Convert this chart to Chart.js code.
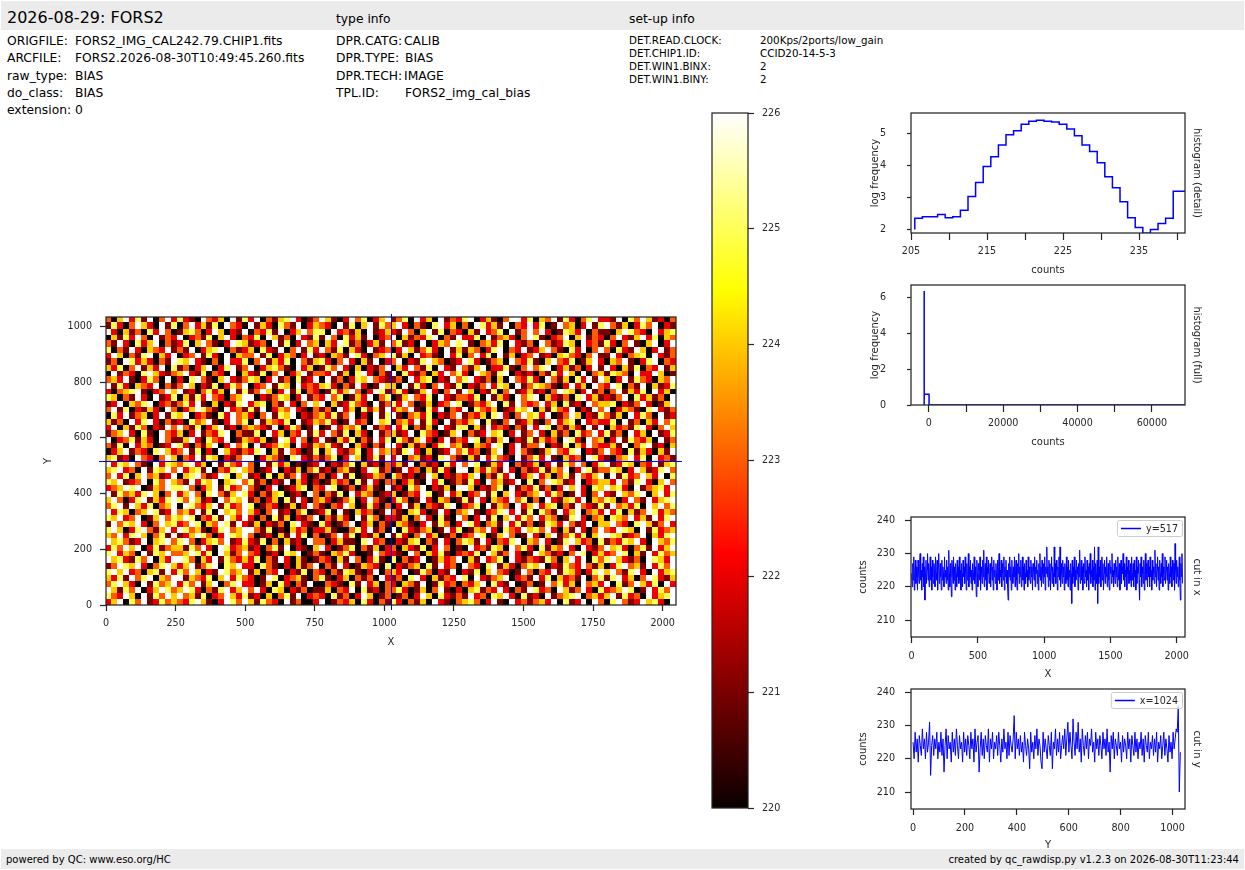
<!DOCTYPE html>
<html>
<head>
<meta charset="utf-8">
<script src="https://cdn.jsdelivr.net/npm/chart.js@4.4.0/dist/chart.umd.min.js"></script>
<style>
  body { margin: 0; width: 1245px; height: 870px; position: relative; background: #fff; font-family: 'DejaVu Sans', sans-serif; color: #000; overflow: hidden; }
  .band { position: absolute; left: 1px; width: 1243px; background: #ebebeb; }
  .t { position: absolute; white-space: pre; line-height: 20px; }
  canvas { position: absolute; }
</style>
</head>
<body>
<div class="band" style="top:1px;height:29px"></div>
<div class="band" style="top:849px;height:20px"></div>

<div class="t" style="left:7px;top:8px;font-size:16px">2026-08-29: FORS2</div>
<div class="t" style="left:336px;top:9px;font-size:12.3px">type info</div>
<div class="t" style="left:629px;top:9px;font-size:12.3px">set-up info</div>

<div class="t" style="left:7px;top:31px;font-size:12.3px">ORIGFILE:</div>
<div class="t" style="left:75px;top:31px;font-size:12.3px">FORS2_IMG_CAL242.79.CHIP1.fits</div>
<div class="t" style="left:7px;top:48px;font-size:12.3px">ARCFILE:</div>
<div class="t" style="left:75px;top:48px;font-size:12.3px">FORS2.2026-08-30T10:49:45.260.fits</div>
<div class="t" style="left:7px;top:66px;font-size:12.3px">raw_type:</div>
<div class="t" style="left:75px;top:66px;font-size:12.3px">BIAS</div>
<div class="t" style="left:7px;top:83px;font-size:12.3px">do_class:</div>
<div class="t" style="left:75px;top:83px;font-size:12.3px">BIAS</div>
<div class="t" style="left:7px;top:100px;font-size:12.3px">extension:</div>
<div class="t" style="left:75px;top:100px;font-size:12.3px">0</div>

<div class="t" style="left:336px;top:31px;font-size:12.3px">DPR.CATG:</div>
<div class="t" style="left:404px;top:31px;font-size:12.3px">CALIB</div>
<div class="t" style="left:336px;top:48px;font-size:12.3px">DPR.TYPE:</div>
<div class="t" style="left:405px;top:48px;font-size:12.3px">BIAS</div>
<div class="t" style="left:336px;top:66px;font-size:12.3px">DPR.TECH:</div>
<div class="t" style="left:404px;top:66px;font-size:12.3px">IMAGE</div>
<div class="t" style="left:336px;top:83px;font-size:12.3px">TPL.ID:</div>
<div class="t" style="left:405px;top:83px;font-size:12.3px">FORS2_img_cal_bias</div>

<div class="t" style="left:629px;top:30px;font-size:10.3px">DET.READ.CLOCK:</div>
<div class="t" style="left:760px;top:30px;font-size:10.3px">200Kps/2ports/low_gain</div>
<div class="t" style="left:629px;top:43px;font-size:10.3px">DET.CHIP1.ID:</div>
<div class="t" style="left:760px;top:43px;font-size:10.3px">CCID20-14-5-3</div>
<div class="t" style="left:629px;top:56px;font-size:10.3px">DET.WIN1.BINX:</div>
<div class="t" style="left:760px;top:56px;font-size:10.3px">2</div>
<div class="t" style="left:629px;top:69px;font-size:10.3px">DET.WIN1.BINY:</div>
<div class="t" style="left:760px;top:69px;font-size:10.3px">2</div>

<div class="t" style="left:6px;top:850px;font-size:10px">powered by QC: www.eso.org/HC</div>
<div class="t" style="right:6px;top:850px;font-size:10px">created by qc_rawdisp.py v1.2.3 on 2026-08-30T11:23:44</div>

<canvas id="imgChart"></canvas>
<canvas id="cbar"></canvas>
<canvas id="histDetail"></canvas>
<canvas id="histFull"></canvas>
<canvas id="cutX"></canvas>
<canvas id="cutY"></canvas>

<script>
// image size (pixels) and where the two cuts are taken
var imgWidth = 2048
var imgHeight = 1034
var cutRow = 517
var cutCol = 1024

// colour scale of the image
var colorMin = 220
var colorMax = 226
var colorTicks = [220, 221, 222, 223, 224, 225, 226]

// image read as a coarse grid, top row first; digit d = 220 + d counts (6 = 226 and above)
var imageRows = [
  '304625160362 521063240615 260314562013 641026350246 135062406132 560241036625 043615203562 216053641203',
  '152036420615 036241506320 614205316024 320615046153 462031056240 306524160326 250163402615 631402536021',
  '620413052630 145302640216 032516024635 506231406124 216304615032 041623506136 362015426031 104653206245',
  '041526306132 602315046203 250641306215 163052416023 604132560316 225061342036 510236046132 036214625043',
  '316205246031 250463102654 123061502634 042651302416 351206024365 610342506213 063125406231 520361046026',
  '503162043261 316024560312 405216036152 631504206123 026413520614 143025603261 246310526036 305216402613',
  '264031560426 023615206043 361502430261 204316520346 514062310625 036250614023 612045320361 162034506213',
  '130652420316 546210306225 036142506314 520362041602 360215643012 652013406325 104632501462 043610256032',
  '425036142605 130246025613 602453106240 153620402136 042631506216 314602251036 356024130261 620415032614',
  '061320564213 462150320604 215036024613 326140562031 605213042635 206431560212 031526406034 154306226401',
  '342610253060 205631046213 540261305126 061302546321 130624502163 562130406325 206314052616 402615320436',
  '615204326031 364021502536 023615406232 452031620164 406152036215 021362540613 543102624063 265031604125',
  '203456102364 612035240615 136402615032 015246302651 352014620361 640215036124 120365402613 036142506240',
  '540316206125 041526320346 602135402613 263501426035 014632506213 325061420635 604213056241 213605241306',
  '126043560231 352610402156 245031620364 604125320613 526301402365 013246051632 362405120634 450213620146',
  '361502142063 024653106231 516024362103 130624052416 243610526032 605324012546 041532602163 602431056213',
  '052613402615 460231052634 203615460213 425136020615 610342502136 132405620364 526013640215 314062530612',
  '413062562031 205346102635 061432506124 352016230645 034261520613 246051036124 103624506232 250613042635',
  '260415302163 631502461203 432160253016 016243506132 625031406215 504162320316 265031420616 042315620364',
  '134620510632 402613256031 150624032615 263150420613 412605320146 031264502613 620413052362 513062406125',
  '602351420631 146205326014 324016526302 610425031625 053146202613 265031460215 142306520634 026153240613',
  '315062430126 520314602635 061235406214 352160420316 620413025634 104326502613 360215042632 241603561204',
  '024613205642 361502064213 256041632015 046213502634 315620401263 523014602631 014632560213 632051420416',
  '451206320364 032615402136 602431056213 135026402516 260341205631 041625320613 526104230652 103462506231',
  '625463106254 356240615326 306152401012 602135041203 241603120526 365014260312 402615363025 612540326145',
  '456230615463 624516032564 301260214035 120341026513 016230415206 604253162031 251436026513 354026412563',
  '362504634126 045631265046 120504136201 302615012430 531201640213 246031526024 624035163246 061523642605',
  '546123605364 316254604563 513021604202 014230516203 302410625013 152063412605 036541260234 426315620463',
  '234656014365 563024615236 310260124503 265013024106 120536021406 640213506132 513026462054 645206134526',
  '615342564036 246305631465 203145012063 031506243012 401326501624 023615046213 462530162036 216435604625',
  '463025614256 536412063546 130240516203 420135026310 253016204301 516204326350 306214526043 540263162456',
  '356164250346 065324615236 501320140263 103264015203 026140321560 235061430624 624503163215 163425064635',
  '625403465126 342615064536 420361203501 250610423016 310452016203 461023562615 053162460342 625041365243',
  '546236014635 465032516426 203051402136 031420615302 214036205106 302615046253 624301562034 054362416256',
  '163546203645 236504365162 140213056210 520136024031 043102615302 652034162513 015426312604 463205641362',
  '564025631462 653410256346 631501042302 241003526130 605213401625 014362053264 536204162036 326540615234',
  '436256403516 124653026546 301204162503 013625021406 152036240130 236501463016 204613525046 654123604256',
  '645312604563 563024536125 215030412063 302411056230 021450316203 541620325604 362015642305 132546206435',
  '253646025134 415362065234 120351602104 620135031402 304215026301 062315406352 051436206213 645203516246',
  '562430615463 346525064136 320120546013 104352001632 210630425102 325064136201 643120365024 236504162534',
  '645215360426 653042615324 250316204101 320416302510 503126014236 041623506213 215304626053 564213065426',
  '136546203564 246135605462 205310204136 031620143205 021340516230 632056142035 460215326314 025634162536',
  '564623045162 536402165346 140326021503 203154102603 426015302160 215046320163 032615420256 463156206245',
  '425163560436 614325046253 201650234103 510240313062 130562041326 506213460231 625042316035 156240365214',
  '356420615346 253614603562 201405203160 032105162403 204316015230 324605216013 016352406342 605136425062',
  '641536024653 465203156246 362054021301 140326051203 352014036102 045132620316 523064136205 234650162536',
  '532640615364 634150236425 120403516023 205130264013 013026405213 162305462051 206134560342 461523062456',
  '246053612534 325641026536 415320613002 601324052031 520314062103 453026106231 342605126063 056312645206'
]
var imageBase = 220
var imgXTicks = [0, 250, 500, 750, 1000, 1250, 1500, 1750, 2000]
var imgYTicks = [0, 200, 400, 600, 800, 1000]

// histogram (detail): bin centres and log10 of the frequency
var histDetailBins = [206, 207, 208, 209, 210, 211, 212, 213, 214, 215, 216, 217, 218, 219, 220, 221, 222, 223,
  224, 225, 226, 227, 228, 229, 230, 231, 232, 233, 234, 235, 236, 237, 238, 239, 240, 241]
var histDetailLogFreq = [2.22, 2.35, 2.40, 2.40, 2.47, 2.37, 2.40, 2.60, 3.03, 3.47, 3.97, 4.28, 4.65, 4.97, 5.09, 5.30, 5.39, 5.42,
  5.39, 5.37, 5.30, 5.15, 4.94, 4.65, 4.44, 4.09, 3.65, 3.31, 2.87, 2.37, 2.06, 1.88, 2.00, 2.19, 2.35, 3.20]
var histDetailBinWidth = 1
var histDetailFloor = 2.0
var histDetailTicks = [205, 210, 215, 220, 225, 230, 235, 240]
var histDetailLabels = [205, 215, 225, 235]
var histDetailYTicks = [2, 3, 4, 5]

// histogram (full): bin edges and log10 of the frequency
var histFullEdges = [-1250, 60, 2000, 68900]
var histFullLogFreq = [6.33, 0.6, 0]
var histFullTicks = [0, 10000, 20000, 30000, 40000, 50000, 60000]
var histFullLabels = [0, 20000, 40000, 60000]
var histFullYTicks = [0, 2, 4, 6]

// cut along x at y=517, sampled every 4 pixels
var cutXValues = [
  224, 220, 227, 222, 229, 219, 225, 228, 221, 226, 223, 219, 228, 224, 221, 227, 230, 222, 225, 219, 227, 223, 229, 220, 226, 216, 224, 228, 221, 225, 230, 222,
  227, 220, 224, 229, 222, 226, 219, 228, 223, 221, 227, 225, 220, 229, 224, 222, 228, 219, 226, 230, 221, 225, 227, 223, 219, 228, 222, 226, 224, 220, 229, 223,
  225, 221, 228, 222, 226, 219, 231, 224, 220, 227, 223, 217, 228, 225, 221, 229, 222, 226, 219, 227, 224, 220, 228, 223, 226, 221, 229, 222, 225, 219, 227, 224,
  220, 228, 223, 226, 221, 229, 224, 219, 227, 222, 225, 230, 220, 226, 223, 228, 221, 225, 219, 227, 224, 222, 229, 221, 226, 223, 217, 228, 224, 220, 227, 225,
  222, 229, 219, 226, 224, 221, 228, 223, 231, 220, 225, 227, 222, 229, 219, 226, 224, 228, 221, 223, 227, 220, 225, 229, 222, 226, 219, 228, 223, 225, 221, 227,
  224, 219, 228, 222, 226, 230, 221, 225, 223, 228, 220, 227, 224, 222, 229, 219, 226, 223, 228, 221, 225, 220, 216, 227, 223, 229, 222, 226, 219, 228, 224, 221,
  226, 223, 229, 220, 225, 228, 222, 219, 227, 224, 230, 221, 226, 223, 228, 220, 225, 229, 222, 226, 219, 227, 224, 221, 228, 223, 225, 220, 229, 222, 226, 224,
  221, 228, 223, 226, 219, 227, 225, 222, 229, 220, 226, 224, 228, 221, 225, 219, 227, 223, 230, 222, 226, 220, 228, 224, 221, 227, 223, 229, 219, 226, 224, 232,
  223, 226, 220, 228, 222, 227, 219, 225, 229, 221, 226, 224, 220, 232, 223, 227, 221, 228, 225, 219, 226, 223, 229, 222, 232, 220, 227, 224, 221, 228, 223, 226,
  219, 227, 224, 221, 229, 222, 226, 220, 228, 223, 225, 219, 227, 224, 215, 228, 221, 226, 223, 229, 220, 225, 222, 228, 224, 226, 219, 227, 223, 231, 221, 225,
  228, 222, 226, 219, 227, 224, 221, 229, 223, 225, 220, 228, 222, 226, 219, 227, 224, 230, 221, 225, 223, 228, 220, 226, 222, 232, 219, 227, 224, 221, 228, 215,
  232, 221, 226, 223, 228, 220, 225, 229, 222, 227, 219, 224, 228, 221, 226, 223, 229, 220, 225, 227, 222, 219, 228, 224, 226, 221, 230, 223, 225, 220, 227, 224,
  221, 228, 223, 226, 220, 229, 224, 222, 227, 219, 225, 228, 221, 226, 224, 230, 222, 227, 220, 225, 223, 229, 219, 226, 224, 228, 221, 225, 222, 227, 220, 229,
  224, 222, 227, 220, 228, 223, 225, 219, 229, 221, 226, 224, 228, 222, 216, 227, 223, 229, 220, 226, 224, 221, 228, 219, 225, 230, 222, 227, 224, 220, 228, 223,
  226, 220, 229, 223, 225, 219, 228, 222, 226, 224, 221, 231, 223, 227, 220, 225, 229, 222, 226, 219, 228, 224, 221, 227, 223, 230, 220, 226, 224, 222, 229, 221,
  225, 228, 222, 226, 219, 227, 224, 221, 229, 223, 226, 220, 228, 224, 222, 227, 219, 233, 225, 221, 228, 223, 226, 220, 224, 229, 222, 216, 227, 223, 230, 221
]
// cut along y at x=1024, sampled every ~4 pixels
var cutYValues = [
  225, 220, 228, 222, 226, 219, 227, 224, 221, 229, 223, 226, 220, 228, 222, 225, 231, 215, 224, 227, 221, 226, 223, 228, 220, 225,
  222, 228, 221, 226, 216, 224, 229, 220, 227, 223, 225, 219, 228, 222, 226, 221, 229, 224, 220, 227, 223, 225, 219, 228, 222, 226,
  221, 227, 224, 220, 228, 223, 226, 219, 229, 222, 225, 227, 216, 223, 228, 221, 226, 220, 227, 224, 222, 229, 219, 226, 223, 228,
  220, 225, 223, 227, 221, 228, 224, 219, 226, 222, 229, 223, 225, 220, 228, 221, 227, 224, 222, 226, 233, 220, 228, 223, 226, 221,
  227, 222, 225, 219, 228, 224, 221, 226, 223, 217, 228, 222, 225, 220, 227, 223, 229, 221, 226, 224, 219, 217, 228, 222, 226, 223,
  220, 227, 224, 221, 228, 217, 225, 223, 229, 221, 226, 222, 228, 220, 224, 227, 223, 229, 221, 226, 231, 222, 228, 224, 220, 232,
  225, 221, 228, 223, 231, 222, 226, 219, 229, 224, 221, 227, 223, 228, 220, 226, 224, 229, 222, 225, 219, 228, 223, 226, 221, 227,
  224, 220, 228, 223, 226, 221, 229, 222, 225, 216, 227, 223, 228, 220, 226, 224, 221, 228, 223, 225, 219, 227, 222, 226, 224, 220,
  228, 223, 226, 219, 227, 224, 221, 228, 222, 226, 220, 225, 223, 228, 221, 226, 219, 227, 224, 222, 228, 220, 225, 223, 227, 221,
  226, 222, 228, 219, 225, 223, 227, 220, 224, 228, 221, 226, 223, 219, 227, 222, 225, 220, 228, 223, 226, 229, 228, 236, 210, 222
]
var cutXRange = [-5, 2063]
var cutYRange = [-8, 1048]
var cutCountRange = [204.9, 241]
var cutXTicks = [0, 500, 1000, 1500, 2000]
var cutYTicks = [0, 200, 400, 600, 800, 1000]
var cutCountTicks = [210, 220, 230, 240]

var ink = '#262626'
var lineBlue = '#0000ff'
var tickSize = 9.6
var titleSize = 10
var hotStops = [[0, [10, 0, 0]], [0.365, [255, 0, 0]], [0.746, [255, 255, 0]], [1, [255, 255, 255]]]

Chart.defaults.font.family = "'DejaVu Sans', sans-serif"
Chart.defaults.color = ink

function hot(t) {
  t = Math.min(1, Math.max(0, t))
  for (var i = 1; i < hotStops.length; i++) {
    var t0 = hotStops[i - 1][0], c0 = hotStops[i - 1][1]
    var t1 = hotStops[i][0], c1 = hotStops[i][1]
    if (t <= t1) {
      var f = (t - t0) / (t1 - t0)
      return 'rgb(' + c0.map(function (v, k) { return Math.round(v + f * (c1[k] - v)) }).join(',') + ')'
    }
  }
  return 'rgb(255,255,255)'
}

// the colour bar spans the whole plot area, bottom = colorMin, top = colorMax
function hotGradient(chart) {
  var a = chart.chartArea
  if (!a || !isFinite(a.top) || !isFinite(a.bottom)) return hot(0.5)
  var g = chart.ctx.createLinearGradient(0, a.bottom, 0, a.top)
  hotStops.forEach(function (s) { g.addColorStop(s[0], 'rgb(' + s[1].join(',') + ')') })
  return g
}

function place(id, left, top, width, height) {
  var c = document.getElementById(id)
  c.width = width
  c.height = height
  c.style.left = left + 'px'
  c.style.top = top + 'px'
  return c.getContext('2d')
}

// fixed axis size, and no extra room for labels hanging over the ends
function fixSize(s, size) {
  if (s.isHorizontal()) {
    s.height = size
    s.paddingLeft = 0
    s.paddingRight = 0
  } else {
    s.width = size
    s.paddingTop = 0
    s.paddingBottom = 0
  }
}

function axis(o) {
  return {
    type: 'linear',
    position: o.position,
    min: o.min,
    max: o.max,
    afterFit: function (s) { fixSize(s, o.size) },
    afterBuildTicks: function (s) { s.ticks = o.ticks.map(function (v) { return { value: v } }) },
    grid: { display: true, drawOnChartArea: false, drawTicks: true, tickLength: o.tickLen, tickColor: ink, tickWidth: 1.2 },
    border: { display: false },
    ticks: {
      padding: o.pad, color: ink, font: { size: tickSize }, maxRotation: 0, autoSkip: false,
      callback: function (v) { return o.labels ? (o.labels.indexOf(v) >= 0 ? String(v) : '') : String(v) }
    },
    title: { display: !!o.title, text: o.title || '', color: ink, font: { size: titleSize }, padding: o.titlePad || 0 }
  }
}

function sideTitle(text) {
  return {
    type: 'linear', position: 'right', display: true, min: 0, max: 1,
    afterFit: function (s) { fixSize(s, 20) },
    grid: { display: false, drawTicks: false },
    border: { display: false },
    ticks: { display: false },
    title: { display: true, text: text, color: ink, font: { size: titleSize }, padding: { top: 2, bottom: 0 } }
  }
}

function baseOptions(padding, scales) {
  return {
    responsive: false,
    animation: false,
    events: [],
    layout: { padding: padding },
    plugins: { legend: { display: false }, tooltip: { enabled: false } },
    scales: scales
  }
}

var framePlugin = {
  id: 'frame',
  afterDatasetsDraw: function (chart) {
    var ctx = chart.ctx, a = chart.chartArea
    ctx.save()
    ctx.strokeStyle = ink
    ctx.lineWidth = 1.25
    ctx.strokeRect(a.left, a.top, a.right - a.left, a.bottom - a.top)
    ctx.restore()
  }
}

var imagePlugin = {
  id: 'biasImage',
  beforeDatasetsDraw: function (chart) {
    var ctx = chart.ctx, x = chart.scales.x, y = chart.scales.y, a = chart.chartArea
    var nRows = imageRows.length
    ctx.save()
    ctx.beginPath()
    ctx.rect(a.left, a.top, a.right - a.left, a.bottom - a.top)
    ctx.clip()
    imageRows.forEach(function (row, r) {
      var cells = row.replace(/\s/g, '')
      var y0 = Math.floor(y.getPixelForValue(imgHeight * (nRows - r) / nRows))
      var y1 = Math.ceil(y.getPixelForValue(imgHeight * (nRows - r - 1) / nRows))
      for (var c = 0; c < cells.length; c++) {
        var x0 = Math.floor(x.getPixelForValue(imgWidth * c / cells.length))
        var x1 = Math.ceil(x.getPixelForValue(imgWidth * (c + 1) / cells.length))
        var v = imageBase + Number(cells[c])
        ctx.fillStyle = hot((v - colorMin) / (colorMax - colorMin))
        ctx.fillRect(x0, y0, x1 - x0, y1 - y0)
      }
    })
    ctx.restore()
  }
}

var crossPlugin = {
  id: 'cross',
  afterDatasetsDraw: function (chart) {
    var ctx = chart.ctx, x = chart.scales.x, y = chart.scales.y, a = chart.chartArea
    var py = Math.round(y.getPixelForValue(cutRow)) + 0.5
    var px = Math.round(x.getPixelForValue(cutCol)) + 0.5
    ctx.save()
    ctx.strokeStyle = lineBlue
    ctx.lineWidth = 1
    ctx.beginPath()
    ctx.moveTo(a.left - 7, py); ctx.lineTo(a.right + 6, py)
    ctx.moveTo(px, a.top - 3); ctx.lineTo(px, a.bottom + 5)
    ctx.stroke()
    ctx.restore()
  }
}

function legendPlugin(text) {
  return {
    id: 'cutLegend',
    afterDatasetsDraw: function (chart) {
      var ctx = chart.ctx, a = chart.chartArea
      ctx.save()
      ctx.font = tickSize + "px 'DejaVu Sans'"
      var tw = ctx.measureText(text).width
      var w = 4 + 20 + 5 + tw + 4, h = 16
      var x0 = a.right - 3 - w, y0 = a.top + 3
      ctx.fillStyle = 'rgba(255,255,255,0.8)'
      ctx.strokeStyle = '#cccccc'
      ctx.lineWidth = 1
      ctx.beginPath()
      ctx.roundRect(x0 + 0.5, y0 + 0.5, w, h, 2)
      ctx.fill()
      ctx.stroke()
      ctx.strokeStyle = lineBlue
      ctx.lineWidth = 1.5
      ctx.beginPath()
      ctx.moveTo(x0 + 4, y0 + h / 2 + 0.5)
      ctx.lineTo(x0 + 24, y0 + h / 2 + 0.5)
      ctx.stroke()
      ctx.fillStyle = ink
      ctx.textBaseline = 'middle'
      ctx.fillText(text, x0 + 29, y0 + h / 2 + 1)
      ctx.restore()
    }
  }
}

// image with the two cut lines
new Chart(place('imgChart', 30, 305, 660, 350), {
  type: 'scatter',
  data: { datasets: [] },
  options: baseOptions({ top: 12, right: 14 }, {
    x: axis({ position: 'bottom', min: 0, max: imgWidth, ticks: imgXTicks, size: 50, tickLen: 6, pad: 7, title: 'X', titlePad: { top: 0, bottom: 7 } }),
    y: axis({ position: 'left', min: 0, max: imgHeight, ticks: imgYTicks, size: 76, tickLen: 6, pad: 8, title: 'Y', titlePad: { top: 12, bottom: 0 } })
  }),
  plugins: [imagePlugin, framePlugin, crossPlugin]
})

// colour bar
new Chart(place('cbar', 710, 105, 80, 711), {
  type: 'bar',
  data: {
    labels: [''],
    datasets: [{
      data: [[colorMin, colorMax]],
      backgroundColor: function (c) { return hotGradient(c.chart) },
      borderWidth: 0,
      barPercentage: 1,
      categoryPercentage: 1
    }]
  },
  options: baseOptions({ left: 2, top: 8, bottom: 8 }, {
    x: { display: false },
    y: axis({ position: 'right', min: colorMin, max: colorMax, ticks: colorTicks, size: 42, tickLen: 6, pad: 8 })
  }),
  plugins: [framePlugin]
})

// histogram (detail)
var detailPts = [{ x: histDetailBins[0] - histDetailBinWidth / 2, y: histDetailFloor }]
histDetailBins.forEach(function (b, i) { detailPts.push({ x: b - histDetailBinWidth / 2, y: histDetailLogFreq[i] }) })
detailPts.push({ x: histDetailBins[histDetailBins.length - 1] + histDetailBinWidth / 2, y: histDetailLogFreq[histDetailLogFreq.length - 1] })

new Chart(place('histDetail', 861, 105, 344, 173), {
  type: 'line',
  data: { datasets: [{ data: detailPts, stepped: 'after', borderColor: lineBlue, borderWidth: 1.5, pointRadius: 0 }] },
  options: baseOptions({ top: 8 }, {
    x: axis({ position: 'bottom', min: 205, max: 241.05, ticks: histDetailTicks, labels: histDetailLabels, size: 45, tickLen: 7, pad: 6, title: 'counts', titlePad: { top: 0, bottom: 2 } }),
    y: axis({ position: 'left', min: 1.89, max: 5.65, ticks: histDetailYTicks, size: 50, tickLen: 4, pad: 21, title: 'log frequency', titlePad: { top: 8, bottom: 0 } }),
    y2: sideTitle('histogram (detail)')
  }),
  plugins: [framePlugin]
})

// histogram (full)
var fullPts = [{ x: histFullEdges[0], y: 0 }]
histFullLogFreq.forEach(function (v, i) { fullPts.push({ x: histFullEdges[i], y: v }) })
fullPts.push({ x: histFullEdges[histFullEdges.length - 1], y: histFullLogFreq[histFullLogFreq.length - 1] })

new Chart(place('histFull', 861, 277, 344, 173), {
  type: 'line',
  data: { datasets: [{ data: fullPts, stepped: 'after', borderColor: lineBlue, borderWidth: 1.5, pointRadius: 0 }] },
  options: baseOptions({ top: 8 }, {
    x: axis({ position: 'bottom', min: -4800, max: 68900, ticks: histFullTicks, labels: histFullLabels, size: 45, tickLen: 7, pad: 6, title: 'counts', titlePad: { top: 0, bottom: 2 } }),
    y: axis({ position: 'left', min: 0, max: 6.67, ticks: histFullYTicks, size: 50, tickLen: 4, pad: 21, title: 'log frequency', titlePad: { top: 8, bottom: 0 } }),
    y2: sideTitle('histogram (full)')
  }),
  plugins: [framePlugin]
})

// cut in x
new Chart(place('cutX', 849, 509, 356, 173), {
  type: 'line',
  data: {
    datasets: [{
      data: cutXValues.map(function (v, i) { return { x: i * imgWidth / cutXValues.length, y: v } }),
      borderColor: lineBlue, borderWidth: 1, pointRadius: 0
    }]
  },
  options: baseOptions({ top: 8 }, {
    x: axis({ position: 'bottom', min: cutXRange[0], max: cutXRange[1], ticks: cutXTicks, size: 45, tickLen: 6, pad: 8, title: 'X', titlePad: { top: 0, bottom: 2 } }),
    y: axis({ position: 'left', min: cutCountRange[0], max: cutCountRange[1], ticks: cutCountTicks, size: 62, tickLen: 6, pad: 10, title: 'counts', titlePad: { top: 8, bottom: 0 } }),
    y2: sideTitle('cut in x')
  }),
  plugins: [framePlugin, legendPlugin('y=' + cutRow)]
})

// cut in y
new Chart(place('cutY', 849, 681, 356, 170), {
  type: 'line',
  data: {
    datasets: [{
      data: cutYValues.map(function (v, i) { return { x: i * imgHeight / cutYValues.length, y: v } }),
      borderColor: lineBlue, borderWidth: 1, pointRadius: 0
    }]
  },
  options: baseOptions({ top: 8 }, {
    x: axis({ position: 'bottom', min: cutYRange[0], max: cutYRange[1], ticks: cutYTicks, size: 42, tickLen: 6, pad: 8, title: 'Y', titlePad: { top: 0, bottom: 0 } }),
    y: axis({ position: 'left', min: cutCountRange[0], max: cutCountRange[1], ticks: cutCountTicks, size: 62, tickLen: 6, pad: 10, title: 'counts', titlePad: { top: 8, bottom: 0 } }),
    y2: sideTitle('cut in y')
  }),
  plugins: [framePlugin, legendPlugin('x=' + cutCol)]
})
</script>
</body>
</html>
